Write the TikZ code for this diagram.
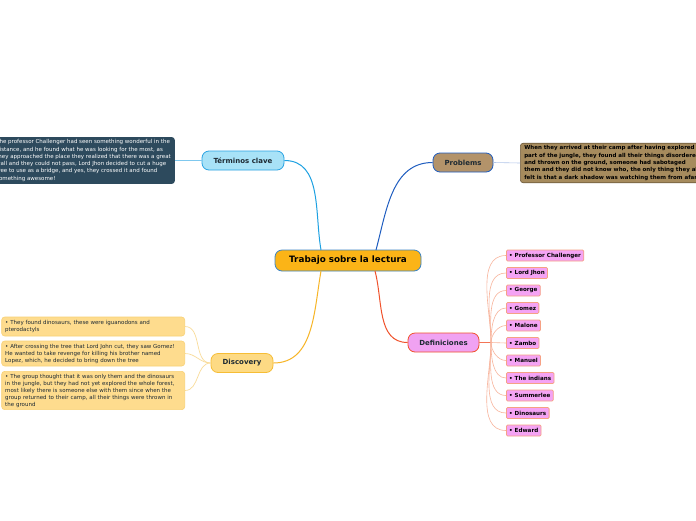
\documentclass[tikz,border=0pt]{standalone}
\usepackage{fontspec}
\setmainfont{DejaVu Sans}
\definecolor{cfill}{HTML}{FBB417}
\definecolor{cdraw}{HTML}{3C84C4}
\definecolor{tfill}{HTML}{A8E2F7}
\definecolor{tdraw}{HTML}{2AA3E3}
\definecolor{tline}{HTML}{1DA1E2}
\definecolor{tbox}{HTML}{2D4A5D}
\definecolor{pfill}{HTML}{B3936A}
\definecolor{pdraw}{HTML}{1F5DC0}
\definecolor{pbox}{HTML}{A68B5D}
\definecolor{pboxd}{HTML}{6F5C3E}
\definecolor{dfill}{HTML}{F0A2F2}
\definecolor{ddraw}{HTML}{F0522C}
\definecolor{ifill}{HTML}{F4A3F4}
\definecolor{idraw}{HTML}{F6A184}
\definecolor{iline}{HTML}{F8B49C}
\definecolor{yfill}{HTML}{FDDA84}
\definecolor{ydraw}{HTML}{F6BD35}
\definecolor{yline}{HTML}{F7B526}
\definecolor{ybox}{HTML}{FEDC8E}
\definecolor{yboxd}{HTML}{F8D176}
\definecolor{ycon}{HTML}{F9DC9A}
\definecolor{txt}{HTML}{1E2A33}
\tikzset{
  topic/.style={draw, line width=0.8pt, rounded corners=7pt, minimum height=19pt, inner xsep=4pt, font=\fontsize{7}{8}\selectfont\bfseries, text=txt},
  item/.style={draw=idraw, fill=ifill, line width=0.8pt, rounded corners=1.2pt, minimum height=11pt, inner xsep=2.8pt, inner ysep=0pt, anchor=west, font=\fontsize{5.6}{6}\selectfont\bfseries, text=black},
  note/.style={rounded corners=3pt, align=left, inner xsep=4pt, inner ysep=2.5pt, font=\fontsize{5.5}{7.3}\selectfont},
  yitem/.style={note, draw=yboxd, fill=ybox, line width=0.6pt, text=txt, anchor=east, text width=176pt, inner xsep=3.5pt, font=\fontsize{5.5}{7}\selectfont},
  ilink/.style={draw=iline, line width=0.6pt},
  ylink/.style={draw=ycon, line width=0.7pt},
}
\begin{document}
\begin{tikzpicture}[x=1pt,y=-1pt]
\useasboundingbox (0,0) rectangle (696,520);
\clip (0,0) rectangle (696,520);
\fill[white] (0,0) rectangle (696,520);

% central
\node[topic, draw=cdraw, fill=cfill, minimum width=146pt, minimum height=21pt, font=\fontsize{8.8}{10}\selectfont\bfseries, text=black] (c) at (348,260.5) {Trabajo sobre la lectura};

% main topics
\node[topic, draw=tdraw, fill=tfill, minimum width=82pt] (t) at (243,160.5) {Términos clave};
\node[topic, draw=pdraw, fill=pfill, minimum width=60pt, text=txt] (p) at (463,162.5) {Problems};
\node[topic, draw=ddraw, fill=dfill, minimum width=71pt] (d) at (443.5,342.5) {Definiciones};
\node[topic, draw=ydraw, fill=yfill, minimum width=62pt, text=txt] (y) at (242,363) {Discovery};

% main connectors
\draw[tline, line width=1pt] (321,250) to[out=100,in=0] (t.east);
\draw[pdraw, line width=1pt] (376,250) to[out=75,in=180] (p.west);
\draw[ddraw, line width=1pt] (375,271) to[out=-75,in=180] (d.west);
\draw[yline, line width=1pt] (321,271) to[out=-100,in=0] (y.east);

% terms note
\node[note, fill=tbox, text=white, anchor=east, minimum height=43pt] (tn) at (175,160.5) {The professor Challenger had seen something wonderful in the\\distance, and he found what he was looking for the most, as\\they approached the place they realized that there was a great\\wall and they could not pass, Lord Jhon decided to cut a huge\\tree to use as a bridge, and yes, they crossed it and found\\something awesome!};
\draw[tdraw!60, line width=0.6pt] (t.west) -- (tn.east);

% problems note
\node[note, draw=pboxd, fill=pbox, line width=0.6pt, anchor=west, font=\fontsize{5.5}{7.3}\selectfont\bfseries, text=black, minimum height=38pt] (pn) at (520,163) {When they arrived at their camp after having explored a\\part of the jungle, they found all their things disordered\\and thrown on the ground, someone had sabotaged\\them and they did not know who, the only thing they all\\felt is that a dark shadow was watching them from afar};
\draw[pdraw!35, line width=0.6pt] (p.east) -- (pn.west);

% definiciones items
\node[item] (i1) at (506,255.5) {• Professor Challenger};
\node[item] (i2) at (506,273) {• Lord Jhon};
\node[item] (i3) at (506,290.5) {• George};
\node[item] (i4) at (506,308) {• Gomez};
\node[item] (i5) at (506,325.5) {• Malone};
\node[item] (i6) at (506,343) {• Zambo};
\node[item] (i7) at (506,360.5) {• Manuel};
\node[item] (i8) at (506,378) {• The indians};
\node[item] (i9) at (506,395.5) {• Summerlee};
\node[item] (i10) at (506,413) {• Dinosaurs};
\node[item] (i11) at (506,430.5) {• Edward};
\coordinate (dj) at (491,342.5);
\draw[ddraw!80, line width=0.8pt] (d.east) -- (dj);
\foreach \i in {1,...,5}{\draw[ilink] (dj) to[out=90,in=180,looseness=0.9] (i\i.west);}
\draw[ilink] (dj) -- (i6.west);
\foreach \i in {7,...,11}{\draw[ilink] (dj) to[out=-90,in=180,looseness=0.9] (i\i.west);}

% discovery items
\node[yitem, minimum height=19pt] (y1) at (185,326.5) {• They found dinosaurs, these were iguanodons and\\pterodactyls};
\node[yitem, minimum height=25pt] (y2) at (185,353.5) {• After crossing the tree that Lord John cut, they saw Gomez!\\He wanted to take revenge for killing his brother named\\Lopez, which, he decided to bring down the tree};
\node[yitem, minimum height=37pt] (y3) at (185,390.5) {• The group thought that it was only them and the dinosaurs\\in the jungle, but they had not yet explored the whole forest,\\most likely there is someone else with them since when the\\group returned to their camp, all their things were thrown in\\the ground};
\draw[ylink] (y.west) to[out=180,in=0] (y1.east);
\draw[ylink] (y.west) to[out=180,in=0] (y2.east);
\draw[ylink] (y.west) to[out=180,in=0] (y3.east);
\end{tikzpicture}
\end{document}
